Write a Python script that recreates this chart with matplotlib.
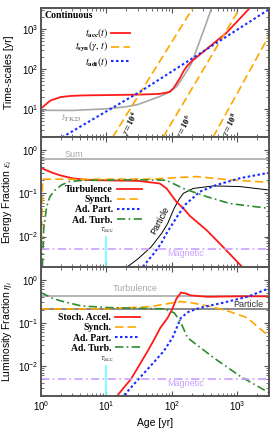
import matplotlib
matplotlib.use("Agg")
import matplotlib.pyplot as plt
from matplotlib.ticker import LogLocator, NullFormatter

plt.rcParams['font.family'] = ['Liberation Sans', 'DejaVu Sans']
plt.rcParams['mathtext.fontset'] = 'stix'

# ---- panel 1: time-scales [yr] ----
acc_age = [1, 1.4, 2, 2.8, 4.4, 10, 30, 64, 80, 93, 105, 118, 133, 149, 170, 200, 684, 1550]
acc_val = [10.4, 16.5, 20, 21.3, 22, 22.4, 23, 24, 25.5, 27, 33, 44, 60, 86, 118, 155, 800, 3300]

adi_age = [2.1, 33.6, 3000]
adi_val = [2.0, 28, 3000]

tk23_age = [1, 3, 10, 20, 30, 46, 64, 83, 118, 149, 200, 260, 330, 403]
tk23_val = [9.4, 9.3, 10.2, 11.5, 13, 16.8, 20.5, 24.6, 36.5, 64, 140, 450, 1300, 3300]

syn_ages = [[12.4, 209], [72.9, 1092], [423, 3000]]
syn_vals = [[2.0, 3300], [2.0, 3300], [2.0, 650]]
syn_labels = [r'$\gamma = \mathbf{10^4}$', r'$\gamma = \mathbf{10^6}$', r'$\gamma = \mathbf{10^8}$']
syn_label_pos = [(23.7, 4.2), (158, 3.55), (796, 4.0)]

# ---- panel 2: energy fractions ----
sum_frac = 0.63
magnetic_frac = 0.005
t_acc_mark = 10

e_turb_age = [1, 1.5, 2, 3, 5, 10, 30, 65, 83, 99, 117, 149, 188, 339, 605, 1170]
e_turb_val = [0.39, 0.3, 0.26, 0.225, 0.205, 0.2, 0.195, 0.17, 0.13, 0.09, 0.064, 0.045, 0.03, 0.014, 0.0057, 0.002]

e_syn_age = [1.0, 1.06, 10, 50, 104, 237, 770, 3000]
e_syn_val = [0.002, 0.213, 0.213, 0.215, 0.23, 0.245, 0.206, 0.18]

e_adturb_age = [1.05, 1.1, 1.22, 1.37, 1.64, 2.07, 2.77, 4.4, 20, 60, 83, 149, 339, 770, 3000]
e_adturb_val = [0.002, 0.015, 0.049, 0.084, 0.12, 0.157, 0.19, 0.2, 0.205, 0.205, 0.2, 0.13, 0.084, 0.058, 0.045]

e_adpart_age = [36, 52, 68, 83, 120, 160, 268, 480, 1090, 3000]
e_adpart_val = [0.002, 0.0039, 0.0068, 0.012, 0.029, 0.055, 0.11, 0.157, 0.225, 0.3]

e_part_age = [21, 30, 48, 70, 86, 108, 130, 149, 211, 430, 1090, 3000]
e_part_val = [0.002, 0.003, 0.0057, 0.012, 0.02, 0.045, 0.075, 0.1, 0.13, 0.149, 0.144, 0.12]

# ---- panel 3: luminosity fractions ----
l_turb_level = 0.42
l_part_level = 0.21

l_stoch_age = [14.5, 18, 23.6, 30, 41, 53.6, 66, 86, 100, 117, 137, 160, 195, 350, 1000, 3000]
l_stoch_val = [0.002, 0.003, 0.0049, 0.009, 0.02, 0.041, 0.075, 0.13, 0.2, 0.36, 0.5, 0.48, 0.43, 0.4, 0.41, 0.41]

l_syn_age = [1, 10, 48, 90, 137, 200, 350, 710, 1430, 1970, 3000]
l_syn_val = [0.21, 0.21, 0.238, 0.28, 0.31, 0.29, 0.246, 0.188, 0.13, 0.084, 0.05]

l_adturb_age = [1, 1.5, 2.02, 4.1, 10.4, 76, 108, 133, 173, 237, 445, 1110, 3000]
l_adturb_val = [0.5, 0.37, 0.32, 0.246, 0.225, 0.21, 0.17, 0.11, 0.045, 0.031, 0.015, 0.0057, 0.0024]

l_adpart_age = [18.7, 30, 50, 75, 102, 137, 180, 277, 600, 1500, 2950]
l_adpart_val = [0.0021, 0.0047, 0.011, 0.022, 0.045, 0.13, 0.18, 0.225, 0.29, 0.41, 0.62]

RED = '#ff1a1a'
ORANGE = '#ffa500'
BLUE = '#1a2cff'
GREEN = '#2e8b2e'
PURPLE = '#c9a0ff'
GRAY = '#b0b0b0'
CYAN = '#66ffff'

dashed = (0, (5, 2.5))
dotted = (0, (1.2, 1.2))
dashdot = (0, (5, 2, 1, 2))

fig = plt.figure(figsize=(2.75, 4.4), dpi=100)
axes = fig.subplots(3, 1, sharex=True)
fig.subplots_adjust(left=0.149, right=0.977, top=0.982, bottom=0.1, hspace=0)
ax1, ax2, ax3 = axes

# panel 1
ax1.plot(tk23_age, tk23_val, color='#a8a8a8', lw=1.2)
l_acc, = ax1.plot(acc_age, acc_val, color=RED, lw=1.3)
for ages, vals in zip(syn_ages, syn_vals):
    l_syn, = ax1.plot(ages, vals, color=ORANGE, lw=1.2, ls=dashed)
l_adi, = ax1.plot(adi_age, adi_val, color=BLUE, lw=1.5, ls=dotted)
for lab, (x, y) in zip(syn_labels, syn_label_pos):
    ax1.text(x, y, lab, fontsize=6, rotation=62, ha='center', va='center')
ax1.text(2.97, 5.96, r'$t_{\mathbf{TK23}}$', color='#a0a0a0', fontsize=7, ha='center', va='center')
ax1.text(0.015, 0.975, 'Continuous', transform=ax1.transAxes, fontsize=7,
         fontweight='bold', family='Liberation Serif', ha='left', va='top')
ax1.legend([l_acc, l_syn, l_adi],
           [r'$t_{\mathbf{acc}}(t)$', r'$t_{\mathbf{syn}}(\gamma,\, t)$', r'$t_{\mathbf{adi}}(t)$'],
           loc='upper right', bbox_to_anchor=(0.39, 0.86), frameon=False,
           markerfirst=False, fontsize=7, handlelength=1.9, handletextpad=0.3,
           labelspacing=0.05, borderpad=0, borderaxespad=0)
ax1.set_ylim(2, 3300)
ax1.set_ylabel('Time-scales [yr]', fontsize=7.5)

# panel 2
ax2.axhline(sum_frac, color=GRAY, lw=1.3)
ax2.text(3.19, 0.79, 'Sum', color='#a8a8a8', fontsize=6.5, ha='center', va='center')
ax2.plot(e_part_age, e_part_val, color='black', lw=0.7)
h1, = ax2.plot(e_turb_age, e_turb_val, color=RED, lw=1.3)
h2, = ax2.plot(e_syn_age, e_syn_val, color=ORANGE, lw=1.2, ls=dashed)
h3, = ax2.plot(e_adpart_age, e_adpart_val, color=BLUE, lw=1.5, ls=dotted)
h4, = ax2.plot(e_adturb_age, e_adturb_val, color=GREEN, lw=1.2, ls=dashdot)
ax2.axhline(magnetic_frac, color=PURPLE, lw=1.2, ls=dashdot)
ax2.text(164, 0.004, 'Magnetic', color=PURPLE, fontsize=6.5, ha='center', va='center')
ax2.text(65.6, 0.0238, 'Particle', color='black', fontsize=6.5, rotation=62, ha='center', va='center')
ax2.plot([t_acc_mark, t_acc_mark], [0.001, 0.01], color=CYAN, lw=1.2)
ax2.text(t_acc_mark, 0.0135, r'$\tau_{\rm acc}$', color='#444444', fontsize=6.5, ha='center', va='center')
ax2.legend([h1, h2, h3, h4], ['Turbulence', 'Synch.', 'Ad. Part.', 'Ad. Turb.'],
           loc='upper right', bbox_to_anchor=(0.444, 0.63), frameon=False,
           markerfirst=False, prop={'family': 'Liberation Serif', 'weight': 'bold', 'size': 7},
           handlelength=2.6, handletextpad=0.4, labelspacing=0.12, borderpad=0, borderaxespad=0)
ax2.set_ylim(2e-3, 2)
ax2.set_ylabel(r'Energy Fraction $\epsilon_i$', fontsize=7.5)

# panel 3
ax3.axhline(l_turb_level, color=GRAY, lw=1.3)
ax3.axhline(l_part_level, color='#808080', lw=1.3)
ax3.text(27.2, 0.62, 'Turbulence', color='#a8a8a8', fontsize=6.5, ha='center', va='center')
ax3.text(1446, 0.27, 'Particle', color='#333333', fontsize=6.5, ha='center', va='center')
g1, = ax3.plot(l_stoch_age, l_stoch_val, color=RED, lw=1.3)
g2, = ax3.plot(l_syn_age, l_syn_val, color=ORANGE, lw=1.2, ls=dashed)
g3, = ax3.plot(l_adpart_age, l_adpart_val, color=BLUE, lw=1.5, ls=dotted)
g4, = ax3.plot(l_adturb_age, l_adturb_val, color=GREEN, lw=1.2, ls=dashdot)
ax3.axhline(magnetic_frac, color=PURPLE, lw=1.2, ls=dashdot)
ax3.text(164, 0.004, 'Magnetic', color=PURPLE, fontsize=6.5, ha='center', va='center')
ax3.plot([t_acc_mark, t_acc_mark], [0.001, 0.01], color=CYAN, lw=1.2)
ax3.text(t_acc_mark, 0.0139, r'$\tau_{\rm acc}$', color='#444444', fontsize=6.5, ha='center', va='center')
ax3.legend([g1, g2, g3, g4], ['Stoch. Accel.', 'Synch.', 'Ad. Part.', 'Ad. Turb.'],
           loc='upper right', bbox_to_anchor=(0.437, 0.64), frameon=False,
           markerfirst=False, prop={'family': 'Liberation Serif', 'weight': 'bold', 'size': 7},
           handlelength=2.6, handletextpad=0.4, labelspacing=0.12, borderpad=0, borderaxespad=0)
ax3.set_ylim(2e-3, 2)
ax3.set_ylabel(r'Luminosity Fraction $\eta_i$', fontsize=7.5)
ax3.set_xlabel('Age [yr]', fontsize=7.5)

for ax in axes:
    ax.set_xscale('log')
    ax.set_yscale('log')
    ax.set_xlim(1, 3000)
    ax.yaxis.set_minor_locator(LogLocator(base=10, subs=range(2, 10), numticks=20))
    ax.yaxis.set_minor_formatter(NullFormatter())
    ax.xaxis.set_minor_locator(LogLocator(base=10, subs=range(2, 10), numticks=20))
    ax.xaxis.set_minor_formatter(NullFormatter())
    ax.tick_params(which='both', direction='in', top=True, right=True, colors='#555555',
                   labelcolor='black', labelsize=7, pad=2)
    ax.tick_params(which='major', length=3.5, width=0.8)
    ax.tick_params(which='minor', length=2, width=0.6)
    for s in ax.spines.values():
        s.set_color('#555555')
        s.set_linewidth(1.4)
    ax.yaxis.set_label_coords(-0.12, 0.5)

fig.savefig('out.png', dpi=100)
